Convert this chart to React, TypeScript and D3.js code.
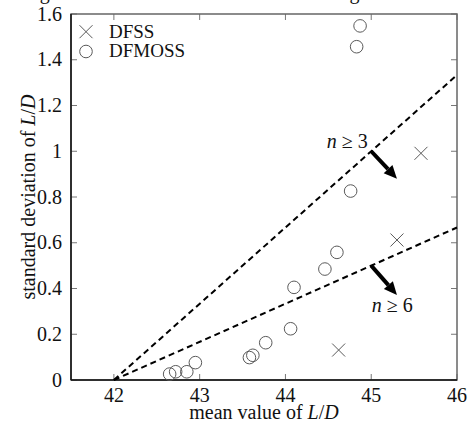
import { useMemo } from 'react'
import * as d3 from 'd3'

// DFSS results (mean, standard deviation of L/D)
const dfssMean = [45.58, 45.3, 44.62]
const dfssStd = [0.991, 0.612, 0.131]

// DFMOSS results
const dfmossMean = [44.87, 44.83, 44.76, 44.6, 44.46, 44.1, 44.06, 43.77, 43.62, 43.58, 42.95, 42.85, 42.72, 42.65]
const dfmossStd = [1.548, 1.457, 0.826, 0.558, 0.485, 0.405, 0.224, 0.163, 0.108, 0.098, 0.076, 0.036, 0.036, 0.026]

const xTicks = [42, 43, 44, 45, 46]
const yTicks = [0, 0.2, 0.4, 0.6, 0.8, 1, 1.2, 1.4, 1.6]

// threshold lines: std = (mean - 42) / n
const lineN = [3, 6]
const lineOrigin = 42
const lineEnd = 46
// arrows pointing into the admissible region
const arrowFrom = [[45, 1.0], [45, 0.5]]
const arrowTo = [[45.3, 0.88], [45.3, 0.372]]
const labelAt = [[44.96, 1.014], [45.005, 0.299]]
const labelAnchor = ['end', 'start']

const W = 470
const H = 423
const margin = { top: 14, right: 13, bottom: 43, left: 71 }
const font = 'Liberation Serif, DejaVu Serif, Times New Roman, serif'
const markColor = '#5a5a5a'

function Cross({ cx, cy, s = 6.5 }: { cx: number; cy: number; s?: number }) {
	return (
		<g stroke={markColor} strokeWidth={1}>
			<line x1={cx - s} y1={cy - s} x2={cx + s} y2={cy + s} />
			<line x1={cx - s} y1={cy + s} x2={cx + s} y2={cy - s} />
		</g>
	)
}

export default function App() {
	const x = useMemo(() => d3.scaleLinear().domain([41.5, 46]).range([margin.left, W - margin.right]), [])
	const y = useMemo(() => d3.scaleLinear().domain([0, 1.6]).range([H - margin.bottom, margin.top]), [])

	const x0 = x.range()[0], x1 = x.range()[1]
	const y0 = y.range()[0], y1 = y.range()[1]
	const tick = 6

	const line = d3.line<[number, number]>().x(d => x(d[0])).y(d => y(d[1]))

	return (
		<svg width={W} height={H} style={{ position: 'absolute', left: 0, top: 0, fontFamily: font }}>
			{/* cropped title, only its descenders show */}
			<text x={3} y={-1} fontSize={20} fill="#111">Designs with the lowest mean and scattering</text>

			{/* ticks */}
			<g stroke="#777" strokeWidth={1}>
				{xTicks.map(t => (
					<g key={'xt' + t}>
						<line x1={x(t)} x2={x(t)} y1={y0} y2={y0 - tick} />
						<line x1={x(t)} x2={x(t)} y1={y1} y2={y1 + tick} />
					</g>
				))}
				{yTicks.map(t => (
					<g key={'yt' + t}>
						<line x1={x0} x2={x0 + tick} y1={y(t)} y2={y(t)} />
						<line x1={x1} x2={x1 - tick} y1={y(t)} y2={y(t)} />
					</g>
				))}
			</g>

			{/* frame */}
			<rect x={x0} y={y1} width={x1 - x0} height={y0 - y1} fill="none" stroke="#666" strokeWidth={1.5} />
			<line x1={x0} x2={x0} y1={y1} y2={y0} stroke="#111" strokeWidth={1.5} />
			<line x1={x0} x2={x1} y1={y0} y2={y0} stroke="#111" strokeWidth={1.5} />

			{/* tick labels */}
			<g fontSize={20} fill="#111">
				{xTicks.map(t => (
					<text key={'xl' + t} x={x(t)} y={402} textAnchor="middle">{t}</text>
				))}
				{yTicks.map(t => (
					<text key={'yl' + t} x={62} y={y(t) + 6.5} textAnchor="end">{t}</text>
				))}
			</g>

			{/* axis titles */}
			<text x={264} y={419} fontSize={20} textAnchor="middle" fill="#111">
				mean value of <tspan fontStyle="italic">L</tspan>/<tspan fontStyle="italic">D</tspan>
			</text>
			<text transform="translate(35,197) rotate(-90)" fontSize={20} textAnchor="middle" fill="#111">
				standard deviation of <tspan fontStyle="italic">L</tspan>/<tspan fontStyle="italic">D</tspan>
			</text>

			{/* threshold lines */}
			{lineN.map(n => (
				<path
					key={'ln' + n}
					d={line([[lineOrigin, 0], [lineEnd, (lineEnd - lineOrigin) / n]]) ?? ''}
					fill="none"
					stroke="#000"
					strokeWidth={2}
					strokeDasharray="6,4"
				/>
			))}

			{/* arrows */}
			{arrowFrom.map((f, i) => {
				const ax = x(f[0]), ay = y(f[1])
				const bx = x(arrowTo[i][0]), by = y(arrowTo[i][1])
				const ang = Math.atan2(by - ay, bx - ax)
				const hl = 13, hw = 6
				const baseX = bx - hl * Math.cos(ang), baseY = by - hl * Math.sin(ang)
				const px = -Math.sin(ang) * hw, py = Math.cos(ang) * hw
				return (
					<g key={'ar' + i}>
						<line x1={ax} y1={ay} x2={baseX} y2={baseY} stroke="#000" strokeWidth={4} />
						<polygon points={`${bx},${by} ${baseX + px},${baseY + py} ${baseX - px},${baseY - py}`} fill="#000" />
					</g>
				)
			})}

			{/* n labels */}
			{labelAt.map((p, i) => (
				<text key={'nl' + i} x={x(p[0])} y={y(p[1])} fontSize={20} textAnchor={labelAnchor[i]} fill="#111">
					<tspan fontStyle="italic">n</tspan> ≥ {lineN[i]}
				</text>
			))}

			{/* data */}
			{dfmossMean.map((m, i) => (
				<circle key={'c' + i} cx={x(m)} cy={y(dfmossStd[i])} r={6.3} fill="none" stroke={markColor} strokeWidth={1} />
			))}
			{dfssMean.map((m, i) => (
				<Cross key={'x' + i} cx={x(m)} cy={y(dfssStd[i])} />
			))}

			{/* legend */}
			<Cross cx={86} cy={31.7} />
			<text x={109} y={38} fontSize={19} fill="#111">DFSS</text>
			<circle cx={86} cy={51.5} r={6.3} fill="none" stroke={markColor} strokeWidth={1} />
			<text x={109} y={57} fontSize={19} fill="#111">DFMOSS</text>
		</svg>
	)
}
